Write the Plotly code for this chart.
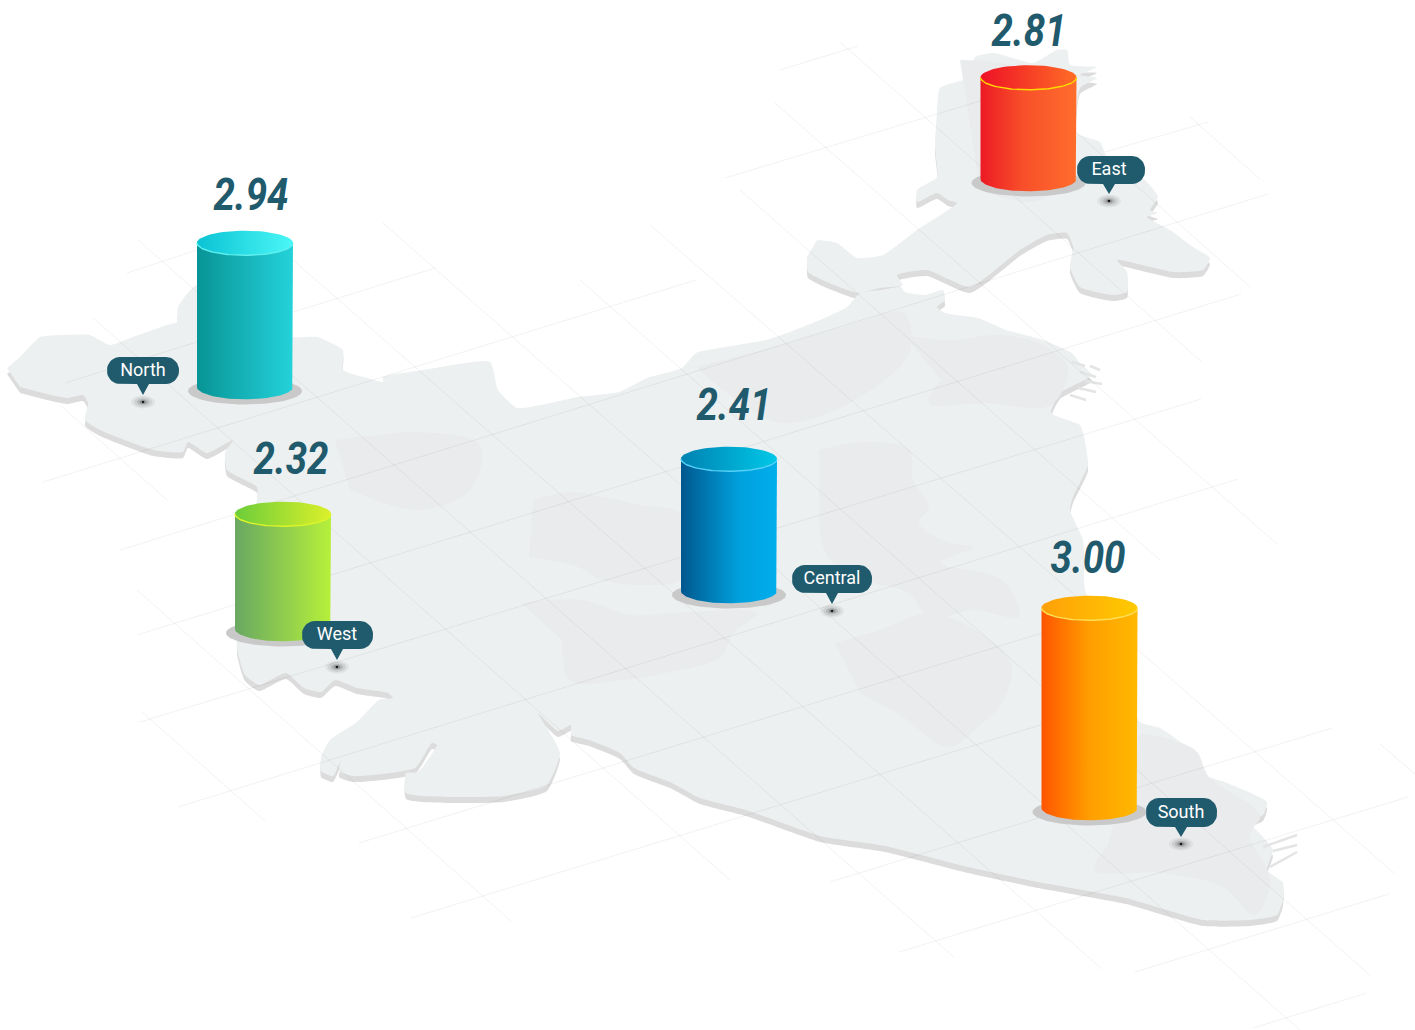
import numpy as np
import plotly.graph_objects as go

# ---- chart content ----
regions = ["North", "East", "West", "Central", "South"]
values = [2.94, 2.81, 2.32, 2.41, 3.00]

# ---- cylinders (page pixels) ----
cyl_cx = [245, 1028.5, 283, 729, 1089.5]
cyl_top = [243, 77.5, 514, 459, 608]
cyl_base = [387, 179, 629, 591, 808]
shadow_cy = [391, 183, 633, 595, 812]
value_x = [251, 1029, 291, 734, 1088]
value_y = [199, 35, 463, 409, 562]
bubble_left = [107, 1077, 302, 792, 1146]
bubble_right = [179, 1145, 373, 872, 1217]
bubble_top = [357, 156, 621, 565, 798]
bubble_bottom = [384, 184, 649, 593, 827]
pin_x = [143, 1109, 337, 832, 1181]
pin_y = [402, 201, 667, 611, 844]

body_colors = [
    [[0, "#089496"], [1, "#24d2da"]],
    [[0, "#ec1a24"], [0.45, "#f8502a"], [1, "#ff6d2c"]],
    [[0, "#68a862"], [1, "#b6f03a"]],
    [[0, "#00578e"], [0.6, "#00a0dc"], [1, "#00aeec"]],
    [[0, "#ff5500"], [0.5, "#ff9e00"], [1, "#ffb900"]],
]
cap_colors = [
    [[0, "#0bc3d4"], [1, "#4bf7f6"]],
    [[0, "#ee1226"], [1, "#ff6c26"]],
    [[0, "#6ccd3a"], [1, "#dcf02a"]],
    [[0, "#0082b2"], [1, "#00c8e8"]],
    [[0, "#ffa008"], [1, "#ffca00"]],
]
rim_colors = ["#5ff0ee", "#ffd800", "#dcf52a", "#55d0f6", "#ffdf55"]

# ---- map outlines ----
main_x = [7, 20, 40, 67, 90, 110, 133, 167, 177, 178, 197, 293, 317, 343, 343, 367, 383, 383, 423, 490, 498, 517, 541, 578, 619, 647, 682, 696, 725, 766, 790, 827, 847, 860, 880, 900, 905, 925, 943, 945, 937, 945, 978, 1006, 1043, 1072, 1080, 1092, 1060, 1051, 1080, 1084, 1088, 1073, 1070, 1083, 1085, 1100, 1130, 1140, 1160, 1190, 1200, 1227, 1267, 1263, 1250, 1263, 1273, 1267, 1283, 1283, 1277, 1250, 1203, 1150, 1126, 1033, 964, 885, 820, 746, 700, 670, 634, 620, 589, 571, 571, 558, 538, 545, 560, 547, 504, 406, 406, 418, 437, 432, 415, 353, 339, 341, 333, 321, 321, 330, 357, 379, 393, 388, 357, 335, 321, 304, 286, 259, 245, 237, 240, 257, 257, 227, 225, 233, 207, 188, 183, 153, 130, 100, 85, 88, 83, 67, 20]
main_y = [368, 357, 337, 335, 335, 345, 337, 325, 322, 307, 285, 337, 337, 350, 370, 378, 382, 377, 370, 362, 390, 408, 405, 397, 392, 378, 368, 353, 347, 340, 332, 317, 307, 293, 290, 287, 292, 295, 290, 300, 307, 313, 318, 330, 340, 353, 363, 375, 393, 413, 425, 437, 465, 497, 510, 540, 590, 620, 700, 722, 728, 750, 773, 783, 802, 815, 822, 837, 850, 870, 883, 900, 915, 920, 920, 905, 898, 881, 866, 846, 836, 810, 798, 782, 768, 753, 740, 735, 725, 731, 713, 725, 753, 785, 796, 793, 773, 772, 745, 743, 768, 776, 771, 760, 776, 771, 757, 740, 722, 700, 698, 693, 688, 680, 692, 688, 673, 685, 675, 648, 600, 500, 487, 470, 453, 440, 453, 442, 452, 450, 442, 430, 420, 403, 395, 398, 387]

east_x = [817, 837, 857, 883, 917, 957, 948, 937, 917, 917, 937, 935, 937, 940, 970, 975, 993, 1003, 1033, 1057, 1067, 1070, 1097, 1080, 1097, 1080, 1077, 1100, 1107, 1145, 1158, 1150, 1158, 1147, 1170, 1193, 1210, 1203, 1173, 1117, 1127, 1127, 1113, 1080, 1070, 1073, 1067, 1047, 1020, 970, 927, 897, 903, 880, 858, 808, 807]
east_y = [240, 243, 258, 255, 230, 203, 200, 193, 202, 190, 177, 147, 113, 88, 77, 57, 53, 55, 63, 50, 50, 65, 67, 75, 78, 88, 133, 142, 157, 180, 197, 210, 213, 217, 230, 247, 258, 270, 272, 260, 272, 292, 295, 287, 267, 247, 233, 235, 250, 287, 270, 275, 285, 288, 293, 272, 257]

# darker tinted patches on the map surface
patches_x = [
    [819, 865, 909, 913, 929, 919, 949, 974, 941, 1002, 1019, 975, 929, 909, 872, 830, 819],
    [533, 570, 602, 640, 680, 700, 680, 640, 602, 578, 529],
    [521, 582, 630, 672, 757, 733, 721, 670, 623, 570, 562],
    [835, 880, 929, 975, 1011, 1002, 980, 949, 900, 860],
    [904, 949, 1000, 1043, 1068, 1051, 986, 929, 941],
    [782, 850, 904, 909, 855, 782, 730, 696],
    [335, 380, 420, 480, 470, 420, 350],
    [1140, 1195, 1209, 1260, 1250, 1270, 1255, 1223, 1163, 1094, 1107],
    [960, 1010, 1060, 1075, 1040, 980],
]
patches_y = [
    [450, 442, 450, 480, 507, 523, 543, 547, 563, 580, 617, 610, 617, 593, 582, 560, 527],
    [500, 492, 497, 505, 513, 550, 580, 585, 580, 567, 557],
    [603, 600, 615, 613, 613, 633, 657, 672, 680, 680, 640],
    [643, 630, 613, 630, 663, 703, 725, 747, 715, 693],
    [335, 340, 335, 345, 367, 405, 403, 403, 380],
    [345, 325, 313, 353, 400, 423, 395, 367],
    [440, 435, 432, 445, 490, 510, 490],
    [733, 750, 777, 815, 835, 880, 915, 887, 873, 870, 847],
    [60, 65, 90, 150, 200, 190],
]

# small coast streaks and island flecks: x0, y0, x1, y1
streaks = [
    (1263, 847, 1297, 835), (1273, 851, 1297, 845), (1270, 867, 1297, 852),
    (1072, 362, 1085, 366), (1080, 372, 1096, 377), (1085, 381, 1102, 384),
    (1078, 388, 1096, 392), (1070, 395, 1086, 400), (1090, 366, 1100, 370),
]

# faint perspective grid: x0, y0, x1, y1
grid_up = [
    (780, 70, 858, 46), (725, 178, 1000, 95), (127, 273, 197, 250), (65, 383, 435, 268),
    (43, 482, 696, 280), (120, 550, 1268, 194), (137, 635, 1241, 294), (140, 722, 1201, 399),
    (178, 807, 1238, 479), (359, 843, 1042, 633), (411, 918, 1047, 723), (830, 882, 1332, 728),
    (899, 952, 1408, 797), (1135, 972, 1389, 894), (1253, 1028, 1367, 993), (1105, 152, 1208, 122),
]
grid_down = [
    (138, 240, 955, 958), (93, 318, 730, 880), (60, 405, 167, 500), (137, 590, 511, 921),
    (142, 712, 265, 821), (293, 260, 1102, 969), (383, 223, 1300, 1030), (580, 280, 1371, 976),
    (650, 225, 1394, 873), (740, 190, 1160, 560), (775, 103, 1277, 544), (840, 42, 1203, 363),
    (1077, 133, 1250, 287), (1190, 117, 1260, 179), (1380, 744, 1415, 774),
]

CYL_RX = 48
CYL_RY = 12.3
SHADOW_RX = 57
SHADOW_RY = 13.5
INK = "#1f5a6d"
LAND = "#edf0f0"
LAND_DARK = "#e9ebec"
EDGE = "#dcdcdc"


def ellipse(cx, cy, rx, ry, a0=0.0, a1=2 * np.pi, n=72):
    t = np.linspace(a0, a1, n)
    return cx + rx * np.cos(t), cy + ry * np.sin(t)


def poly(xs, ys, color, smooth=0.0, **kw):
    line = dict(width=0, color=color)
    if smooth:
        line.update(shape="spline", smoothing=smooth)
    return go.Scatter(x=list(xs), y=list(ys), mode="lines", line=line,
                      fill="toself", fillcolor=color, hoverinfo="skip", **kw)


def segs(rows, color, width):
    xs, ys = [], []
    for x0, y0, x1, y1 in rows:
        xs += [x0, x1, None]
        ys += [y0, y1, None]
    return go.Scatter(x=xs, y=ys, mode="lines", line=dict(color=color, width=width), hoverinfo="skip")


def bubble(l, r, t, b, tipx, tipy, rad=13):
    xs, ys = [], []
    for cx, cy, a0 in [(r - rad, t + rad, -np.pi / 2), (r - rad, b - rad, 0)]:
        ex, ey = ellipse(cx, cy, rad, rad, a0, a0 + np.pi / 2, 10)
        xs += list(ex); ys += list(ey)
    xs += [tipx + 6, tipx, tipx - 6]
    ys += [b, tipy, b]
    for cx, cy, a0 in [(l + rad, b - rad, np.pi / 2), (l + rad, t + rad, np.pi)]:
        ex, ey = ellipse(cx, cy, rad, rad, a0, a0 + np.pi / 2, 10)
        xs += list(ex); ys += list(ey)
    return xs, ys


fig = go.Figure()

# map: side wall, surface, tinted patches
for xs, ys in [(main_x, main_y), (east_x, east_y)]:
    fig.add_trace(poly(xs, np.array(ys) + 6, EDGE, smooth=0.5))
for xs, ys in [(main_x, main_y), (east_x, east_y)]:
    fig.add_trace(poly(xs, ys, LAND, smooth=0.5))
for xs, ys in zip(patches_x, patches_y):
    fig.add_trace(poly(xs, ys, LAND_DARK, smooth=1.0))
fig.add_trace(segs(streaks, "#e3e4e5", 2.5))

# grid
fig.add_trace(segs(grid_up + grid_down, "rgba(0,0,0,0.055)", 1))

# pin halos and dots
for px, py in zip(pin_x, pin_y):
    for rx, ry, alpha in [(12, 6.5, 0.05), (9, 5, 0.08), (6, 3.2, 0.12), (3.5, 2, 0.18)]:
        ex, ey = ellipse(px, py, rx, ry)
        fig.add_trace(poly(ex, ey, f"rgba(0,0,0,{alpha})"))
    ex, ey = ellipse(px, py, 1.4, 1.2)
    fig.add_trace(poly(ex, ey, "#111111"))

# cylinders
for i in range(len(regions)):
    cx, top, base = cyl_cx[i], cyl_top[i], cyl_base[i]
    ex, ey = ellipse(cx, shadow_cy[i], SHADOW_RX, SHADOW_RY)
    fig.add_trace(poly(ex, ey, "#c9c9c9"))
    lx, ly = ellipse(cx, base, CYL_RX, CYL_RY, 0, np.pi)
    bx = [cx + CYL_RX] + list(lx) + [cx - CYL_RX, cx + CYL_RX]
    by = [top] + list(ly) + [top, top]
    fig.add_trace(go.Scatter(x=bx, y=by, mode="lines", line=dict(width=0), fill="toself",
                             fillgradient=dict(type="horizontal", colorscale=body_colors[i]),
                             hoverinfo="skip"))
    tx, ty = ellipse(cx, top, CYL_RX, CYL_RY)
    fig.add_trace(go.Scatter(x=tx, y=ty, mode="lines", line=dict(width=0), fill="toself",
                             fillgradient=dict(type="horizontal", colorscale=cap_colors[i]),
                             hoverinfo="skip"))
    rx, ry = ellipse(cx, top, CYL_RX, CYL_RY, 0, np.pi)
    fig.add_trace(go.Scatter(x=rx, y=ry, mode="lines", line=dict(color=rim_colors[i], width=1.4),
                             hoverinfo="skip"))

# callouts
for i in range(len(regions)):
    bx, by = bubble(bubble_left[i], bubble_right[i], bubble_top[i], bubble_bottom[i], pin_x[i], pin_y[i] - 7)
    fig.add_trace(poly(bx, by, INK))

fig.add_trace(go.Scatter(
    x=pin_x,
    y=[(a + b) / 2 + 0.5 for a, b in zip(bubble_top, bubble_bottom)],
    text=regions, mode="text", textposition="middle center",
    textfont=dict(family="Roboto", size=18, color="#ffffff"), hoverinfo="skip"))

fig.add_trace(go.Scatter(
    x=value_x, y=value_y, text=[f"{v:.2f}" for v in values], mode="text", textposition="middle center",
    textfont=dict(family="Roboto", size=44, color=INK, weight="bold", style="italic"),
    hoverinfo="skip"))

fig.update_layout(
    width=1415, height=1030, margin=dict(l=0, r=0, t=0, b=0), showlegend=False,
    paper_bgcolor="#ffffff", plot_bgcolor="#ffffff",
    xaxis=dict(range=[0, 1415], visible=False, fixedrange=True),
    yaxis=dict(range=[1030, 0], visible=False, fixedrange=True),
)

# the value labels use a condensed cut in the reference: narrow the Roboto glyphs
POST = """
document.body.style.margin='0';document.body.style.overflow='hidden';
document.querySelectorAll('g.textpoint text').forEach(function(t){
  if (parseFloat(t.style.fontSize) > 30) {
    t.setAttribute('lengthAdjust','spacingAndGlyphs');
    t.setAttribute('textLength', t.getComputedTextLength()*0.875);
  }
});
"""
fig.write_html("out.html", config={"displayModeBar": False}, post_script=POST)
